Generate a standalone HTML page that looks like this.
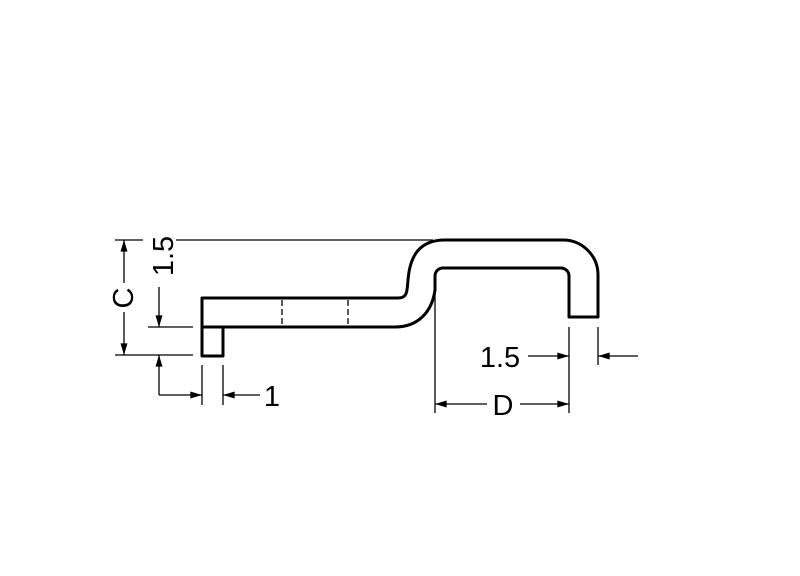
<!DOCTYPE html>
<html><head><meta charset="utf-8"><style>
html,body{margin:0;padding:0;background:#fff;}
svg{display:block}
text{font-family:"Liberation Sans",sans-serif;font-size:29px;font-weight:300;fill:#000}
</style></head><body>
<svg width="800" height="576" viewBox="0 0 800 576" xmlns="http://www.w3.org/2000/svg">
<defs>
<marker id="a" viewBox="0 0 10 6" refX="10" refY="3" markerWidth="16" markerHeight="7" markerUnits="userSpaceOnUse" orient="auto">
<path d="M0,0 L10,3 L0,6 Z" fill="#000"/></marker>
</defs>
<path d="M202,298 L398,298 C408,298 407,290 408,280 C410,255 420,240 445,240 L563,240 A35,35 0 0 1 598,275 L598,317 L569,317 L569,276 A8,8 0 0 0 561,268 L443,268 A8,8 0 0 0 435,276 L435,290 C432,312 418,327 395,327 L223,327 L223,356 L202,356 Z" fill="none" stroke="#000" stroke-width="3" stroke-linejoin="round"/>
<line x1="202" y1="327" x2="223" y2="327" stroke="#000" stroke-width="3"/>
<g stroke="#000" stroke-width="1.3" fill="none">
<line x1="282" y1="300" x2="282" y2="326" stroke-dasharray="6,3"/>
<line x1="348" y1="300" x2="348" y2="326" stroke-dasharray="6,3"/>
<line x1="115" y1="240" x2="143" y2="240"/>
<line x1="176" y1="240" x2="433" y2="240"/>
<line x1="115" y1="355" x2="193" y2="355"/>
<line x1="148" y1="327" x2="193" y2="327"/>
<line x1="124" y1="283" x2="124" y2="240" marker-end="url(#a)"/>
<line x1="124" y1="312" x2="124" y2="355" marker-end="url(#a)"/>
<line x1="159" y1="287" x2="159" y2="327" marker-end="url(#a)"/>
<polyline points="159,395 159,355" marker-end="url(#a)"/>
<line x1="159" y1="395" x2="202" y2="395" marker-end="url(#a)"/>
<line x1="260" y1="395" x2="223" y2="395" marker-end="url(#a)"/>
<line x1="202" y1="365" x2="202" y2="405"/>
<line x1="223" y1="365" x2="223" y2="405"/>
<line x1="569" y1="327" x2="569" y2="413"/>
<line x1="598" y1="327" x2="598" y2="365"/>
<line x1="435" y1="292" x2="435" y2="413"/>
<line x1="528" y1="356" x2="569" y2="356" marker-end="url(#a)"/>
<line x1="638" y1="356" x2="598" y2="356" marker-end="url(#a)"/>
<line x1="487" y1="404" x2="435" y2="404" marker-end="url(#a)"/>
<line x1="520" y1="404" x2="569" y2="404" marker-end="url(#a)"/>
</g>
<text x="124" y="298" text-anchor="middle" transform="rotate(-90 124 298)" dominant-baseline="central">C</text>
<text x="164" y="256" text-anchor="middle" transform="rotate(-90 164 256)" dominant-baseline="central">1.5</text>
<text x="272" y="406" text-anchor="middle">1</text>
<text x="500" y="367" text-anchor="middle">1.5</text>
<text x="503" y="415" text-anchor="middle">D</text>
</svg>
</body></html>
